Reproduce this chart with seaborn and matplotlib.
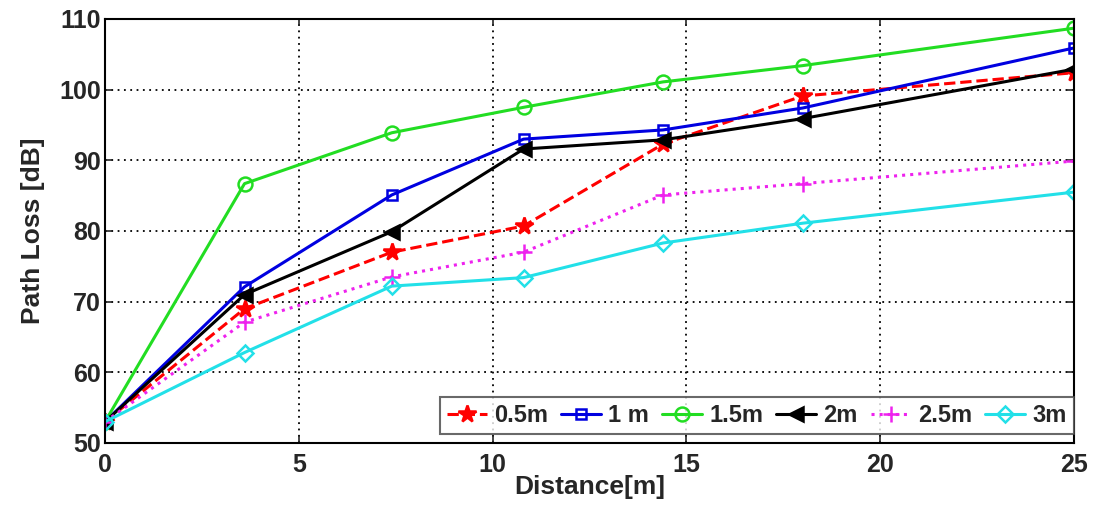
import matplotlib
matplotlib.use("Agg")
import matplotlib.pyplot as plt
import seaborn as sns
import numpy as np

distance = [0, 3.6, 7.4, 10.8, 14.4, 18, 25]
loss_05 = [53, 69.0, 77.0, 80.7, 92.3, 99.1, 102.4]
loss_1 = [53, 72.1, 85.1, 93.0, 94.3, 97.4, 105.9]
loss_15 = [53, 86.7, 93.9, 97.5, 101.1, 103.4, 108.7]
loss_2 = [53, 71.0, 79.9, 91.6, 92.9, 95.9, 102.9]
loss_25 = [53, 67.1, 73.5, 77.0, 85.1, 86.7, 89.9]
loss_3 = [53, 62.8, 72.2, 73.4, 78.3, 81.1, 85.5]
labels = ["0.5m", "1 m", "1.5m", "2m", "2.5m", "3m"]
xticks = [0, 5, 10, 15, 20, 25]
yticks = [50, 60, 70, 80, 90, 100, 110]

sns.set_style("white")
plt.rcParams['font.family'] = ['Liberation Sans', 'DejaVu Sans']

fig = plt.figure(figsize=(10.96, 5.08), dpi=100)
ax = fig.add_axes([0.0958, 0.128, 0.884, 0.8346])

series = [loss_05, loss_1, loss_15, loss_2, loss_25, loss_3]
styles = [
    dict(color="#ff0000", linestyle="--", marker="*", markersize=13, mfc="#ff0000", mec="#ff0000"),
    dict(color="#0000e0", linestyle="-", marker="s", markersize=7, mfc="none", mec="#0000e0"),
    dict(color="#22dd22", linestyle="-", marker="o", markersize=10, mfc="none", mec="#22dd22"),
    dict(color="#000000", linestyle="-", marker="<", markersize=10, mfc="#000000", mec="#000000"),
    dict(color="#ee22ee", linestyle=":", marker="+", markersize=11, mfc="#ee22ee", mec="#ee22ee"),
    dict(color="#22e0e8", linestyle="-", marker="D", markersize=8, mfc="none", mec="#22e0e8"),
]
for vals, lab, st in zip(series, labels, styles):
    sns.lineplot(x=distance, y=vals, ax=ax, label=lab, color=st["color"],
                 linestyle=st["linestyle"], marker=st["marker"], markersize=st["markersize"],
                 markerfacecolor=st["mfc"], markeredgecolor=st["mec"], markeredgewidth=1.8,
                 linewidth=2.2)

ax.set_xlim(0, 25)
ax.set_ylim(50, 110)
ax.set_xticks(xticks)
ax.set_yticks(yticks)
ax.grid(True, color="black", linestyle=(0, (1, 2.5)), linewidth=1.3)
for s in ax.spines.values():
    s.set_color("black")
    s.set_linewidth(1.5)
ax.tick_params(axis="both", which="both", direction="in", length=5, width=1.2,
               labelsize=18, pad=3, left=True, bottom=True, top=True, right=True)
ax.tick_params(axis="x", pad=7)
for lbl in ax.get_xticklabels() + ax.get_yticklabels():
    lbl.set_fontweight("bold")
ax.set_xlabel("Distance[m]", fontsize=19, fontweight="bold", labelpad=-1)
ax.set_ylabel("Path Loss [dB]", fontsize=19, fontweight="bold", labelpad=10)

leg = ax.legend(loc="lower right", ncol=6, frameon=True, fancybox=False,
                prop={"weight": "bold", "size": 17}, handlelength=1.7,
                handletextpad=0.3, columnspacing=0.55, borderpad=0.3,
                bbox_to_anchor=(1.0, 0.02), borderaxespad=0.0)
leg.get_frame().set_edgecolor("#444444")
leg.get_frame().set_linewidth(1.5)

fig.savefig("out.png", dpi=100)
